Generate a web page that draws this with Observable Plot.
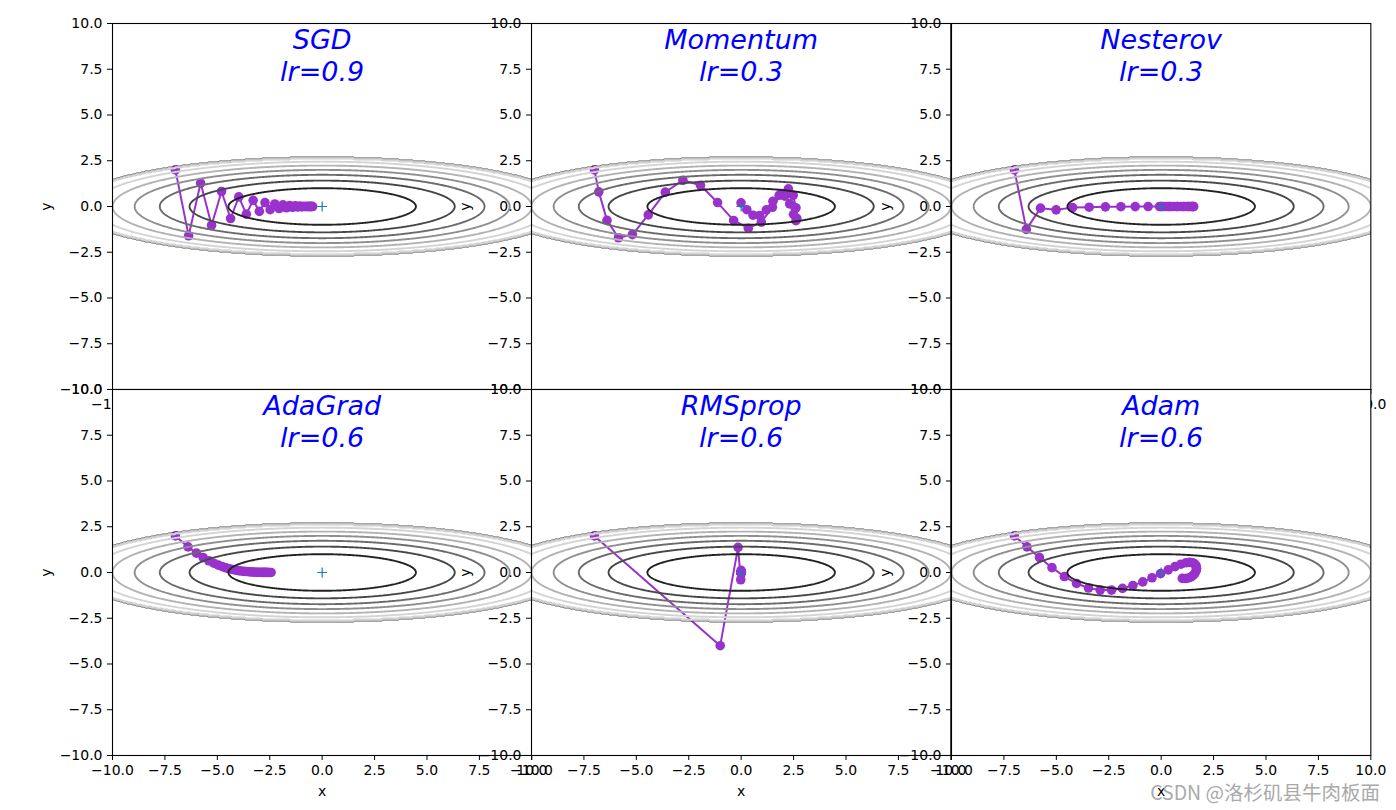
<!DOCTYPE html>
<html>
<head>
<meta charset="utf-8">
<script src="https://cdn.jsdelivr.net/npm/d3@7"></script>
<script src="https://cdn.jsdelivr.net/npm/@observablehq/plot@0.6"></script>
<style>
  body { margin: 0; background: #fff; }
  #chart { position: relative; width: 1396px; height: 810px; overflow: hidden; background: #fff; font-family: "DejaVu Sans", sans-serif; }
  #chart svg { position: absolute; }
  #wm { position: absolute; right: 16px; top: 777px; font-family: "Noto Sans CJK SC", "Noto Sans", sans-serif; font-size: 19.5px; color: #aaaaaa; white-space: nowrap; }
</style>
</head>
<body>
<div id="chart"></div>
<script>
// ---- data ----
const titles = ["SGD", "Momentum", "Nesterov", "AdaGrad", "RMSprop", "Adam"];
const learningRates = ["0.9", "0.3", "0.3", "0.6", "0.6", "0.6"];
const ticks = [-10, -7.5, -5, -2.5, 0, 2.5, 5, 7.5, 10];
const contourLevels = [1, 2, 3, 4, 5, 6, 7];
const minimumX = [0];
const minimumY = [0];

const sgdX = [-7, -6.37, -5.797, -5.275, -4.8003, -4.3682, -3.9751, -3.6173, -3.2918, -2.9955, -2.7259, -2.4806, -2.2573, -2.0542, -1.8693, -1.7011, -1.548, -1.4086, -1.2819, -1.1665, -1.0615, -0.966, -0.879, -0.7999, -0.7279, -0.6624, -0.6028, -0.5485, -0.4992, -0.4543];
const sgdY = [2, -1.6, 1.28, -1.024, 0.8192, -0.6554, 0.5243, -0.4194, 0.3355, -0.2684, 0.2147, -0.1718, 0.1374, -0.11, 0.088, -0.0704, 0.0563, -0.045, 0.036, -0.0288, 0.0231, -0.0184, 0.0148, -0.0118, 0.0094, -0.0076, 0.006, -0.0048, 0.0039, -0.0031];

const momentumX = [-7, -6.79, -6.3973, -5.852, -5.1856, -4.4303, -3.6176, -2.7777, -1.9384, -1.1249, -0.359, 0.3411, 0.9609, 1.49, 1.9214, 2.252, 2.482, 2.6146, 2.6555, 2.6126, 2.4956, 2.3154, 2.0838, 1.8129, 1.5146, 1.2008, 0.8823, 0.5692, 0.2703, -0.0068];
const momentumY = [2, 0.8, -0.76, -1.708, -1.5364, -0.4601, 0.7846, 1.4341, 1.1582, 0.2149, -0.7629, -1.1853, -0.8542, -0.0437, 0.7119, 0.9649, 0.6136, -0.0707, -0.6442, -0.7738, -0.4262, 0.1424, 0.5686, 0.6111, 0.2826, -0.1826, -0.4917, -0.4749, -0.1748, 0.2001];

const nesterovX = [-7, -6.4309, -5.755, -5.0087, -4.225, -3.4332, -2.6582, -1.9207, -1.2371, -0.6199, -0.0774, 0.3853, 0.7664, 1.0669, 1.2899, 1.4404, 1.525, 1.5511, 1.5266, 1.4601, 1.3598, 1.2339, 1.09, 0.9352, 0.7758, 0.6172, 0.4641, 0.3202, 0.1885, 0.0711];
const nesterovY = [2, -1.252, -0.091, -0.1827, -0.0615, -0.0399, -0.0187, -0.0101, -0.0051, -0.0027, -0.0014, -0.0007, -0.0004, -0.0002, -0.0001, 0, 0, 0, 0, 0, 0, 0, 0, 0, 0, 0, 0, 0, 0, 0];

const adagradX = [-7, -6.4, -5.9951, -5.6746, -5.4038, -5.1669, -4.9549, -4.7625, -4.5857, -4.4219, -4.2692, -4.126, -3.9912, -3.8637, -3.7428, -3.6279, -3.5184, -3.4138, -3.3138, -3.2179, -3.1259, -3.0375, -2.9525, -2.8706, -2.7917, -2.7156, -2.6421, -2.5711, -2.5025, -2.4361];
const adagradY = [2, 1.4, 1.0559, 0.8177, 0.6414, 0.5067, 0.4018, 0.3195, 0.2544, 0.2028, 0.1617, 0.129, 0.103, 0.0822, 0.0656, 0.0524, 0.0418, 0.0334, 0.0266, 0.0213, 0.017, 0.0136, 0.0108, 0.0086, 0.0069, 0.0055, 0.0044, 0.0035, 0.0028, 0.0022];

const rmspropX = [-7, -1, -0.1473, -0.0211, -0.0029, -0.0004, -0.0001, 0, 0, 0, 0, 0, 0, 0, 0, 0, 0, 0, 0, 0, 0, 0, 0, 0, 0, 0, 0, 0, 0, 0];
const rmspropY = [2, -4, 1.3719, -0.3975, 0.1159, -0.0345, 0.0105, -0.0033, 0.001, -0.0003, 0.0001, 0, 0, 0, 0, 0, 0, 0, 0, 0, 0, 0, 0, 0, 0, 0, 0, 0, 0, 0];

const adamX = [-7, -6.4, -5.802, -5.2076, -4.6188, -4.0377, -3.4667, -2.9088, -2.3671, -1.845, -1.3463, -0.8749, -0.4346, -0.0294, 0.3373, 0.6623, 0.9435, 1.1792, 1.3689, 1.5129, 1.6125, 1.6696, 1.6871, 1.668, 1.6162, 1.5355, 1.43, 1.304, 1.1616, 1.0072];
const adamY = [2, 1.4, 0.8146, 0.2639, -0.2204, -0.6004, -0.8488, -0.963, -0.961, -0.8686, -0.7107, -0.5101, -0.2877, -0.063, 0.1453, 0.3211, 0.4515, 0.5294, 0.5532, 0.5265, 0.4569, 0.3544, 0.2305, 0.0976, -0.0321, -0.1473, -0.2387, -0.2998, -0.3273, -0.3216];

const pathsX = [sgdX, momentumX, nesterovX, adagradX, rmspropX, adamX];
const pathsY = [sgdY, momentumY, nesterovY, adagradY, rmspropY, adamY];

// objective surface f(x, y) = x^2/20 + y^2 (values above 7 masked to 0, as in the original)
const objective = (x, y) => { const z = x * x / 20 + y * y; return z > 7 ? 0 : z; };

// ---- layout / styles ----
const PATH = "#9932CC";
const levelGrays = ["#222222", "#474747", "#6b6b6b", "#8f8f8f", "#b3b3b3", "#d4d4d4", "#b9b9b9"];
const ML = 100, MR = 30, MT = 10, MB = 50, FW = 419.33, FH = 366;
const fmt = d => (d < 0 ? "\u2212" : "") + Math.abs(d).toFixed(1);
const chart = document.getElementById("chart");
const origin = minimumX.map((x, k) => ({x, y: minimumY[k]}));

titles.forEach((name, i) => {
  const col = i % 3, row = Math.floor(i / 3);
  const fl = 112 + col * FW, ft = 23 + row * FH;
  const pts = pathsX[i].map((x, k) => ({x, y: pathsY[i][k]}));
  const svg = Plot.plot({
    width: ML + FW + MR, height: MT + FH + MB,
    marginLeft: ML, marginRight: MR, marginTop: MT, marginBottom: MB,
    style: {background: "none", overflow: "visible", fontFamily: "DejaVu Sans", fontSize: "14px", maxWidth: "none"},
    x: {domain: [-10, 10]},
    y: {domain: [-10, 10]},
    color: {type: "ordinal", domain: contourLevels, range: levelGrays},
    marks: [
      Plot.frame({fill: "white", stroke: "none"}),
      Plot.line(pts, {x: "x", y: "y", stroke: PATH, strokeWidth: 2, clip: true}),
      Plot.dot(pts, {x: "x", y: "y", r: 4.8, fill: PATH, stroke: "none", clip: true}),
      Plot.contour({value: objective, x1: -10.5, x2: 10.5, y1: -5, y2: 5, thresholds: contourLevels,
                    stroke: "value", fill: "none", strokeWidth: 1.9, pixelSize: 1, clip: true}),
      Plot.dot(origin, {x: "x", y: "y", symbol: "plus", r: 3.3, stroke: "#1f77b4", strokeWidth: 1.2}),
      Plot.text([name + "\nlr=" + learningRates[i]], {frameAnchor: "top", lineAnchor: "top", dy: 3,
                 fontSize: 27, fontStyle: "italic", fill: "blue", lineHeight: 1.19, fontFamily: "DejaVu Sans"}),
      Plot.axisX({ticks, tickFormat: fmt, tickSize: 5, tickPadding: 5, label: null, fontSize: 14}),
      Plot.axisY({ticks, tickFormat: fmt, tickSize: 5, tickPadding: 5, label: null, fontSize: 14}),
      Plot.text(["x"], {frameAnchor: "bottom", lineAnchor: "middle", textAnchor: "middle", dy: 36, fontSize: 14}),
      Plot.text(["y"], {frameAnchor: "left", lineAnchor: "middle", textAnchor: "middle", rotate: -90, dx: -66, fontSize: 14}),
      Plot.frame({stroke: "black", strokeWidth: 1.1})
    ]
  });
  svg.style.left = (fl - ML) + "px";
  svg.style.top = (ft - MT) + "px";
  chart.appendChild(svg);
});

const wm = document.createElement("div");
wm.id = "wm";
wm.textContent = "CSDN @洛杉矶县牛肉板面";
chart.appendChild(wm);
</script>
</body>
</html>
